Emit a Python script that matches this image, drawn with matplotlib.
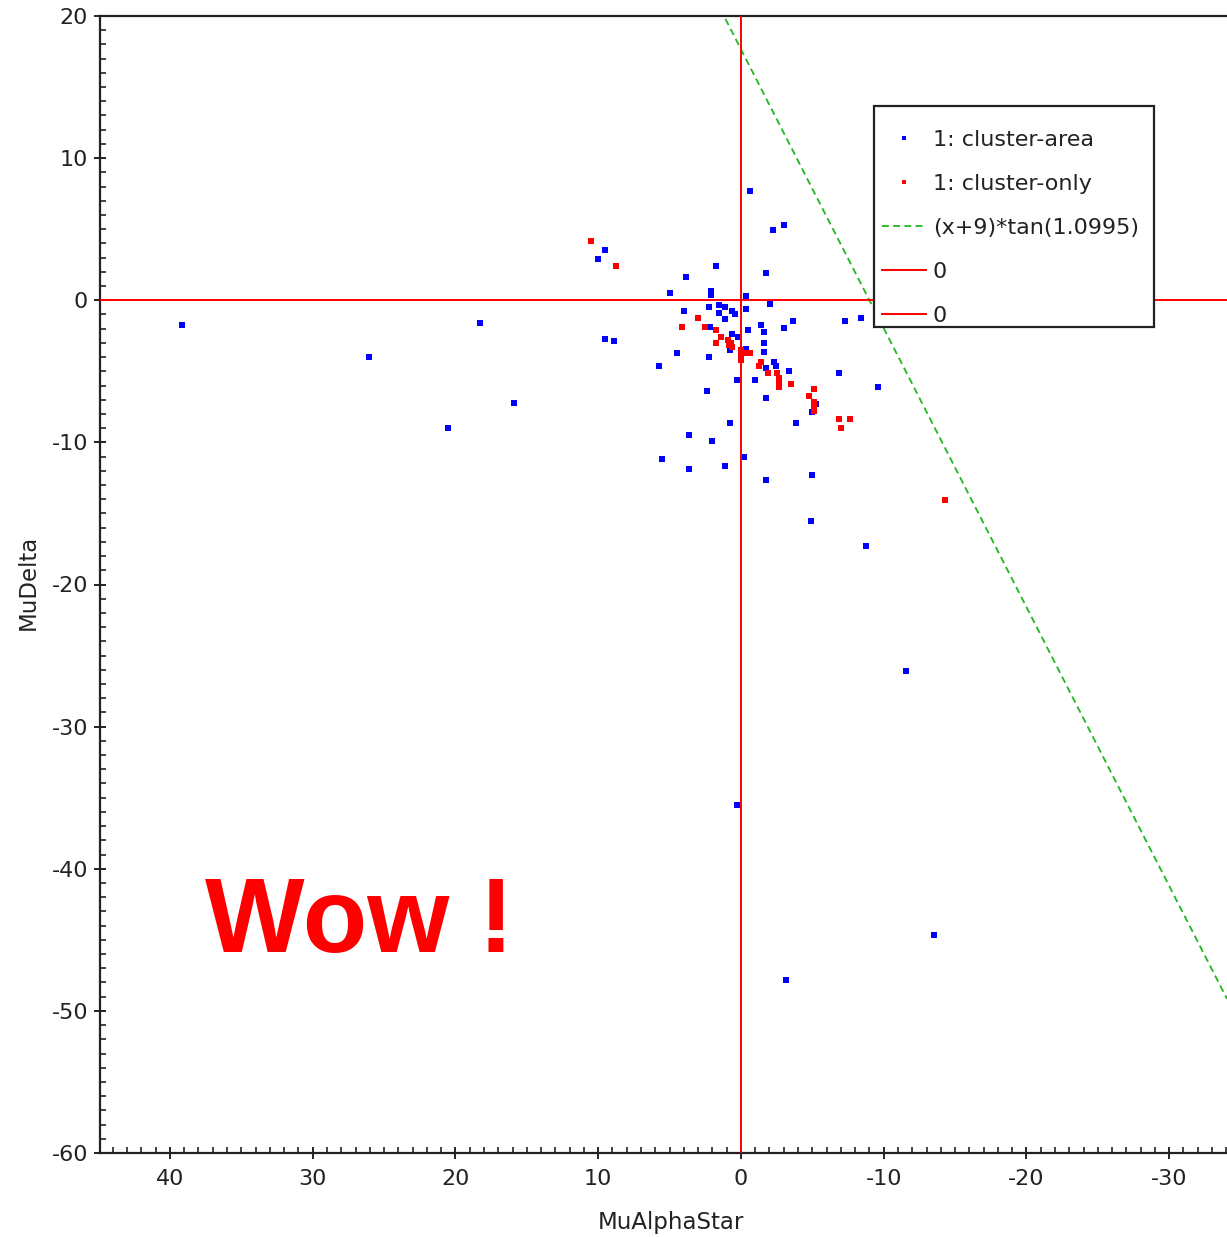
import numpy as np
import matplotlib
matplotlib.use("Agg")
import matplotlib.pyplot as plt
from matplotlib.ticker import MultipleLocator
from matplotlib.patches import Rectangle

# ---- data ----
area_x = [-3.05, -2.23, 9.55, 10.02, 1.73, -1.77, 3.83, 4.95, 2.08, 2.08, -0.32, -2.07,
          4.00, 2.22, 1.57, 1.57, 1.15, 0.61, 0.45, 1.10, -0.32, -3.68, -3.05, -7.32,
          -8.44, -1.42, -1.60, -0.48, 2.20, 0.61, 0.22, 9.55, 8.92, -1.60, -1.60, 0.80,
          -0.37, 4.46, 2.22, 5.75, -2.30, -2.47, -1.77, -3.35, -6.85, 0.29, -0.97, -9.58,
          2.41, -1.77, -5.27, -4.96, 0.80, -3.84, 3.65, 2.06, 5.56, -0.20, 3.65, 1.10,
          -4.96, -1.77, -0.60, 39.17, 26.07, 18.30, 15.92, 20.54, -4.94, -8.79, -11.59,
          0.31, -13.55, -3.19]
area_y = [5.29, 4.96, 3.53, 2.88, 2.41, 1.93, 1.61, 0.49, 0.65, 0.37, 0.30, -0.29,
          -0.76, -0.50, -0.34, -0.92, -0.50, -0.76, -0.95, -1.30, -0.64, -1.44, -1.94, -1.44,
          -1.27, -1.75, -2.22, -2.10, -1.91, -2.38, -2.57, -2.71, -2.87, -3.03, -3.67, -3.50,
          -3.46, -3.69, -4.00, -4.63, -4.33, -4.61, -4.75, -4.96, -5.12, -5.62, -5.62, -6.09,
          -6.41, -6.90, -7.30, -7.87, -8.64, -8.64, -9.46, -9.93, -11.20, -11.06, -11.86, -11.69,
          -12.32, -12.65, 7.68, -1.75, -4.00, -1.60, -7.23, -8.99, -15.54, -17.30, -26.09,
          -35.52, -44.67, -47.84]

only_x = [10.53, 8.73, 3.02, 4.14, 2.55, 1.78, 1.43, 1.78, 0.92, 0.68, 0.85, 0.64,
          -0.02, -0.02, -0.02, -0.37, -0.65, -1.42, -1.25, -1.93, -2.54, -2.70, -2.70, -2.70,
          -3.52, -5.10, -4.75, -5.10, -5.15, -5.10, -6.85, -7.65, -7.02, -14.32]
only_y = [4.17, 2.41, -1.27, -1.91, -1.91, -2.10, -2.57, -3.03, -2.80, -3.03, -3.15, -3.27,
          -3.50, -3.86, -4.21, -3.74, -3.69, -4.33, -4.61, -5.14, -5.10, -5.50, -5.85, -6.09,
          -5.92, -6.25, -6.72, -7.14, -7.49, -7.80, -8.34, -8.34, -8.97, -14.06]

line_offset = 9
line_angle = 1.0995
series_labels = ["1: cluster-area", "1: cluster-only", "(x+9)*tan(1.0995)", "0", "0"]
x_label = "MuAlphaStar"
y_label = "MuDelta"
x_ticks = [40, 30, 20, 10, 0, -10, -20, -30]
y_ticks = [20, 10, 0, -10, -20, -30, -40, -50, -60]
x_limits = (44.9, -34.05)
y_limits = (-60, 20)

# ---- figure ----
W, H = 1227, 1237
fig = plt.figure(figsize=(W / 100, H / 100), dpi=100)
ax_l, ax_r, ax_t, ax_b = 100, 1227, 16, 1153
ax = fig.add_axes([ax_l / W, 1 - ax_b / H, (ax_r - ax_l) / W, (ax_b - ax_t) / H])

ax.set_xlim(*x_limits)
ax.set_ylim(*y_limits)

ax.plot(area_x, area_y, linestyle="none", marker="s", markersize=5,
        markeredgewidth=0, color="#0000ff", label=series_labels[0], zorder=3)
ax.plot(only_x, only_y, linestyle="none", marker="s", markersize=5,
        markeredgewidth=0, color="#ff0000", label=series_labels[1], zorder=4)

xs = np.linspace(x_limits[0], x_limits[1], 400)
ax.plot(xs, (xs + line_offset) * np.tan(line_angle), color="#1db81d", lw=1.3,
        linestyle=(0, (3.8, 2.4)), label=series_labels[2], zorder=5)
ax.axhline(0, color="#ff0000", lw=1.4, label=series_labels[3], zorder=5)
ax.axvline(0, color="#ff0000", lw=1.4, label=series_labels[4], zorder=5)

# ticks
tick_col = "#222222"
ax.xaxis.set_minor_locator(MultipleLocator(1))
ax.yaxis.set_minor_locator(MultipleLocator(1))
ax.set_xticks(x_ticks)
ax.set_xticklabels([str(t) for t in x_ticks])
ax.set_yticks(y_ticks)
ax.set_yticklabels([str(t) for t in y_ticks])
ax.set_xlim(*x_limits)
ax.set_ylim(*y_limits)
ax.tick_params(which="major", direction="inout", length=9, width=1.4,
               labelsize=16, colors=tick_col, pad=4)
ax.tick_params(which="minor", direction="in", length=4, width=1.2, colors=tick_col)
ax.tick_params(axis="x", which="major", pad=7)

for s in ["left", "bottom", "top"]:
    ax.spines[s].set_color(tick_col)
    ax.spines[s].set_linewidth(1.6)
ax.spines["right"].set_visible(False)

fig.text(671 / W, 1 - 1222 / H, x_label, ha="center", va="center",
         fontsize=16.5, color=tick_col)
fig.text(28 / W, 1 - 582 / H, y_label, ha="center", va="center",
         rotation=90, fontsize=16.5, color=tick_col)

# legend frame (drawn as a box) and legend entries
box_l, box_t, box_r, box_b = 874, 106, 1154, 327
frame = Rectangle((box_l / W, 1 - box_b / H), (box_r - box_l) / W, (box_b - box_t) / H,
                  transform=fig.transFigure, facecolor="white", edgecolor=tick_col,
                  linewidth=1.6, zorder=6, clip_on=False)
ax.add_patch(frame)

leg = ax.legend(loc="upper left", bbox_to_anchor=((box_l - ax_l) / (ax_r - ax_l),
                1 - (122 - ax_t) / (ax_b - ax_t)),
                borderaxespad=0, fontsize=16, frameon=False, handlelength=2.0,
                handletextpad=0.3, labelspacing=1.08, borderpad=0.35,
                markerscale=0.5)
leg.set_zorder(7)
for t in leg.get_texts():
    t.set_color(tick_col)

fig.text(205 / W, 1 - 952 / H, "Wow !", color="#ff0000", fontsize=76,
         fontweight="bold", family="Liberation Sans", ha="left", va="baseline")

fig.savefig("out.png", dpi=100)
